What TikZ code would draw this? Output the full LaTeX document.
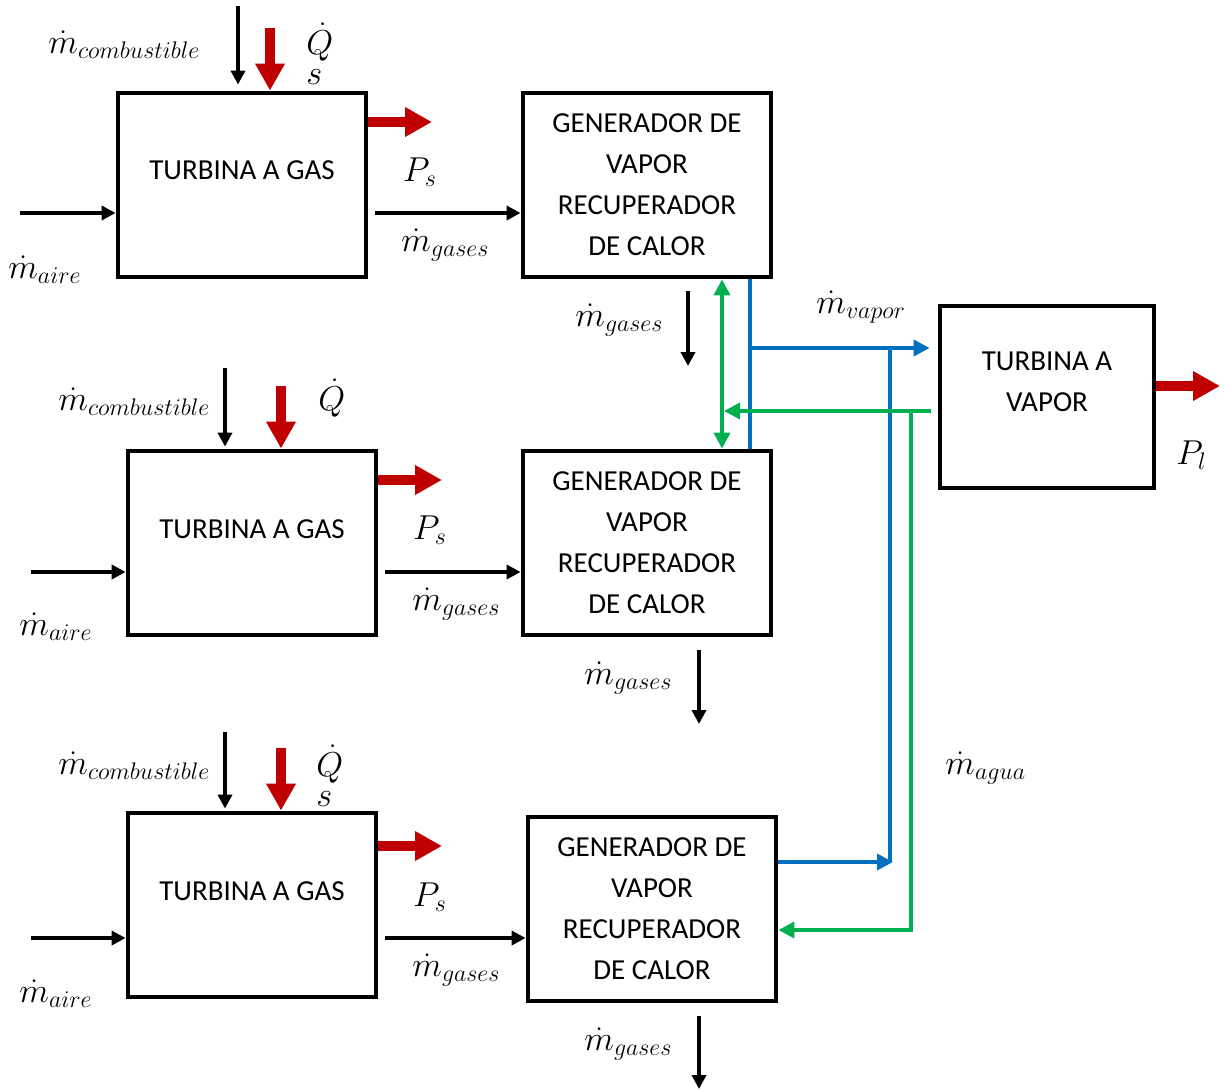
\documentclass[tikz,border=0pt]{standalone}
\usepackage{fontspec}
\setmainfont{Carlito}
\usetikzlibrary{arrows.meta,calc}

\definecolor{pwrred}{HTML}{C00000}
\definecolor{vapblue}{HTML}{0070C0}
\definecolor{watgreen}{HTML}{00B050}

\tikzset{
  block/.style={draw,line width=2.4pt,minimum width=124pt,minimum height=92pt,inner sep=0pt},
  blocktext/.style={font=\fontsize{14.5}{20.5}\selectfont,align=center,inner sep=0pt},
  lbl/.style={font=\fontsize{17.28}{18}\selectfont,inner sep=0pt},
  flow/.style={line width=1.8pt,-{Triangle[length=7pt,width=7pt]}},
  power/.style={pwrred,line width=4.7pt,-{Triangle[length=13.5pt,width=14pt]}},
  steam/.style={vapblue,line width=1.8pt},
  water/.style={watgreen,line width=1.8pt},
  tipc/.style={-{Triangle[length=8pt,width=8pt]}}
}

\begin{document}
\begin{tikzpicture}[x=0.5pt,y=-0.5pt]
  \useasboundingbox (0,0) rectangle (1226,1091);

  % gas turbines
  \node[block] (tg1) at (242,185) {};
  \node[block] (tg2) at (252,543) {};
  \node[block] (tg3) at (252,905) {};
  \node[blocktext] (tg1t) at (242,170) {TURBINA A GAS};
  \node[blocktext] (tg2t) at (252,529) {TURBINA A GAS};
  \node[blocktext] (tg3t) at (252,891) {TURBINA A GAS};

  % heat recovery steam generators
  \node[block,blocktext] (gv1) at (647,185) {GENERADOR DE\\VAPOR\\RECUPERADOR\\DE CALOR};
  \node[block,blocktext] (gv2) at (647,543) {GENERADOR DE\\VAPOR\\RECUPERADOR\\DE CALOR};
  \node[block,blocktext] (gv3) at (652,909) {GENERADOR DE\\VAPOR\\RECUPERADOR\\DE CALOR};

  % steam turbine
  \node[block,minimum width=107pt,minimum height=91pt] (tv) at (1047,397) {};
  \node[blocktext] (tvt) at (1047,382) {TURBINA A\\VAPOR};

  % free ends
  \coordinate (air1) at (20,213);
  \coordinate (air2) at (31,572);
  \coordinate (air3) at (31,938);
  \coordinate (fuel1) at (238,6);
  \coordinate (fuel2) at (225,368);
  \coordinate (fuel3) at (225,732);
  \coordinate (heat1) at (270,28);
  \coordinate (heat2) at (281,386);
  \coordinate (heat3) at (281,748);
  \coordinate (pow1) at (432,122);
  \coordinate (pow2) at (442,480);
  \coordinate (pow3) at (442,846);
  \coordinate (ex1) at (688,366);
  \coordinate (ex2) at (699,724);
  \coordinate (ex3) at (699,1089);
  \coordinate (powl) at (1220,386);

  % gas turbine connections
  \draw[flow] (air1) -- (air1 -| tg1.west);
  \draw[flow] (air2) -- (air2 -| tg2.west);
  \draw[flow] (air3) -- (air3 -| tg3.west);
  \draw[flow,shorten >=3pt] (fuel1) -- (fuel1 |- tg1.north);
  \draw[flow,shorten >=1pt] (fuel2) -- (fuel2 |- tg2.north);
  \draw[flow,shorten >=1pt] (fuel3) -- (fuel3 |- tg3.north);
  \draw[power] (heat1) -- (heat1 |- tg1.north);
  \draw[power] (heat2) -- (heat2 |- tg2.north);
  \draw[power] (heat3) -- (heat3 |- tg3.north);
  \draw[power] (pow1 -| tg1.east) -- (pow1);
  \draw[power] (pow2 -| tg2.east) -- (pow2);
  \draw[power] (pow3 -| tg3.east) -- (pow3);
  \draw[flow,shorten <=3.5pt] (air1 -| tg1.east) -- (air1 -| gv1.west);
  \draw[flow,shorten <=3.5pt] (air2 -| tg2.east) -- (air2 -| gv2.west);
  \draw[flow,shorten <=3.5pt] (air3 -| tg3.east) -- (air3 -| gv3.west);

  % exhaust gases
  \draw[flow,shorten <=6pt] (ex1 |- gv1.south) -- (ex1);
  \draw[flow,shorten <=6.5pt] (ex2 |- gv2.south) -- (ex2);
  \draw[flow,shorten <=6.5pt] (ex3 |- gv3.south) -- (ex3);

  % steam lines
  \coordinate (b1) at (750,348);
  \coordinate (sj) at (890,348);
  \coordinate (s3) at (890,862);
  \draw[steam] (b1 |- gv1.south) -- (b1 |- gv2.north);
  \draw[steam,tipc,shorten >=4pt] (b1) -- (b1 -| tv.west);
  \draw[steam] (sj) -- (s3);
  \draw[steam,tipc] (s3 -| gv3.east) -- ([xshift=1.5pt]s3);

  % water lines
  \coordinate (w1) at (722,411);
  \coordinate (wj) at (911,411);
  \coordinate (w3) at (911,930);
  \draw[water,{Triangle[length=8pt,width=8pt]}-{Triangle[length=8pt,width=8pt]}] (w1 |- gv1.south) -- (w1 |- gv2.north);
  \draw[water,tipc,shorten <=3.5pt] (w1 -| tv.west) -- ([xshift=1pt]w1);
  \draw[water,tipc] (wj) -- (w3) -- (w3 -| gv3.east);

  % steam turbine power
  \draw[power] (powl -| tv.east) -- (powl);

  % labels
  \node[lbl,anchor=west] (mc1) at (48,45) {$\dot m_{combustible}$};
  \node[lbl,anchor=west] (mc2) at (58,402) {$\dot m_{combustible}$};
  \node[lbl,anchor=west] (mc3) at (58,766) {$\dot m_{combustible}$};
  \node[lbl,anchor=west,align=left] (qs1) at (306,54) {$\dot Q$\\[-3pt]$s$};
  \node[lbl,anchor=west] (q2) at (318,398) {$\dot Q$};
  \node[lbl,anchor=west,align=left] (qs3) at (316,776) {$\dot Q$\\[-3pt]$s$};
  \node[lbl] (ps1) at (420,172) {$P_s$};
  \node[lbl] (ps2) at (430,530) {$P_s$};
  \node[lbl] (ps3) at (430,897) {$P_s$};
  \node[lbl,anchor=west] (mg1) at (401,245) {$\dot m_{gases}$};
  \node[lbl,anchor=west] (mg2) at (412,604) {$\dot m_{gases}$};
  \node[lbl,anchor=west] (mg3) at (412,970) {$\dot m_{gases}$};
  \node[lbl,anchor=west] (ma1) at (8,270) {$\dot m_{aire}$};
  \node[lbl,anchor=west] (ma2) at (19,627) {$\dot m_{aire}$};
  \node[lbl,anchor=west] (ma3) at (19,994) {$\dot m_{aire}$};
  \node[lbl,anchor=west] (mx1) at (575,320) {$\dot m_{gases}$};
  \node[lbl,anchor=west] (mx2) at (584,678) {$\dot m_{gases}$};
  \node[lbl,anchor=west] (mx3) at (584,1044) {$\dot m_{gases}$};
  \node[lbl,anchor=west] (mv) at (816,307) {$\dot m_{vapor}$};
  \node[lbl,anchor=west] (mw) at (945,768) {$\dot m_{agua}$};
  \node[lbl,anchor=west] (pl) at (1176,455) {$P_l$};
\end{tikzpicture}
\end{document}
